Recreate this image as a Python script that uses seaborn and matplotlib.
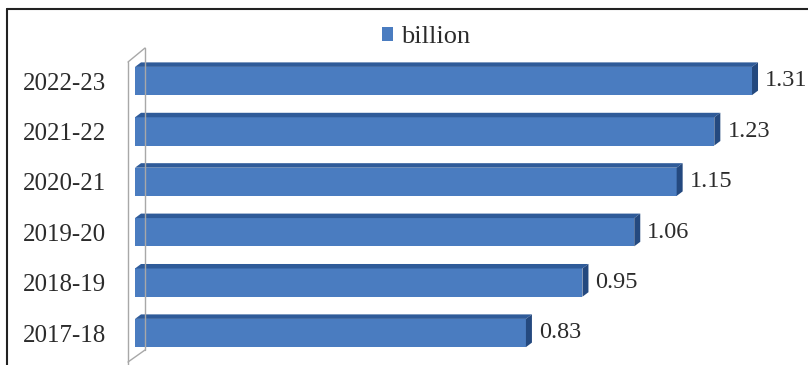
import matplotlib
matplotlib.use("Agg")
import matplotlib.pyplot as plt
import seaborn as sns
import pandas as pd
from matplotlib.patches import Polygon, Patch
from matplotlib.lines import Line2D

# Data
years = ["2022-23", "2021-22", "2020-21", "2019-20", "2018-19", "2017-18"]
billion = [1.31, 1.23, 1.15, 1.06, 0.95, 0.83]
series_name = "billion"

df = pd.DataFrame({"year": years, "value": billion})

sns.set_theme(style="white")
plt.rcParams["font.family"] = ["Liberation Serif", "DejaVu Serif"]

W, H = 808, 365
fig = plt.figure(figsize=(W / 100, H / 100), dpi=100)
fig.patch.set_facecolor("white")

def fx(px):
    return px / W

def fy(py):
    return 1 - py / H

# axes occupy the plotting area to the right of the category wall
ax_left, ax_top, ax_bottom = 135, 40, 365
ax = fig.add_axes([fx(ax_left), fy(ax_bottom), 1 - fx(ax_left), (ax_bottom - ax_top) / H])
ax.set_facecolor("none")

front = "#4a7cc0"
top_face = "#2f5b99"
side_face = "#24497f"
text_col = "#2b2b2b"

sns.barplot(data=df, y="year", x="value", orient="h", color=front,
            width=0.56, saturation=1, linewidth=0, edgecolor="none",
            ax=ax, order=years, zorder=3)

px_per_unit = 471.0
xmax = (W - ax_left) / px_per_unit
ax.set_xlim(0, xmax)
row_px = 50.4
first_center = 81
ax.set_ylim(len(years) - 1 + (ax_bottom - (first_center + row_px * (len(years) - 1))) / row_px,
            -(first_center - ax_top) / row_px)

# 3-D depth on each bar: top face and right-end face
dx = 6 / px_per_unit
dy = 4.5 / row_px
for bar in ax.patches:
    x0, y0 = bar.get_x(), bar.get_y()
    w, h = bar.get_width(), bar.get_height()
    x1 = x0 + w
    top, bot = y0, y0 + h
    ax.add_patch(Polygon([(x0, top), (x1, top), (x1 + dx, top - dy), (x0 + dx, top - dy)],
                         closed=True, facecolor=top_face, edgecolor="none", zorder=4))
    ax.add_patch(Polygon([(x1, top), (x1 + dx, top - dy), (x1 + dx, bot - dy), (x1, bot)],
                         closed=True, facecolor=side_face, edgecolor="none", zorder=4))

# value labels
for i, v in enumerate(billion):
    ax.text(v + dx + 0.015, i, f"{v:.2f}", va="center", ha="left",
            fontsize=17.5, color=text_col, zorder=5)

ax.set_xlabel("")
ax.set_ylabel("")
ax.set_xticks([])
ax.tick_params(axis="y", length=0, pad=21, labelsize=18, labelcolor=text_col)
for s in ax.spines.values():
    s.set_visible(False)

# category wall (thin 3-D back plane)
wall_col = "#a8a8a8"
for xs, ys in [((128, 128), (62, 365)),
               ((145, 145), (48, 350)),
               ((128, 145), (62, 48)),
               ((128, 145), (362, 350))]:
    fig.add_artist(Line2D([fx(x) for x in xs], [fy(y) for y in ys],
                          color=wall_col, lw=1.0, zorder=1))

# outer frame
fig.add_artist(Line2D([fx(7), 1], [fy(9), fy(9)], color="#222222", lw=1.5))
fig.add_artist(Line2D([fx(7), fx(7)], [fy(9), 0], color="#222222", lw=1.5))

# legend
handle = Patch(facecolor=front, edgecolor="none", label=series_name)
fig.legend(handles=[handle], loc="center", bbox_to_anchor=(fx(426), fy(37)),
           frameon=False, fontsize=19, handlelength=0.45, handleheight=0.45,
           handletextpad=0.3, labelcolor=text_col)

fig.savefig("out.png", dpi=100, facecolor="white")
